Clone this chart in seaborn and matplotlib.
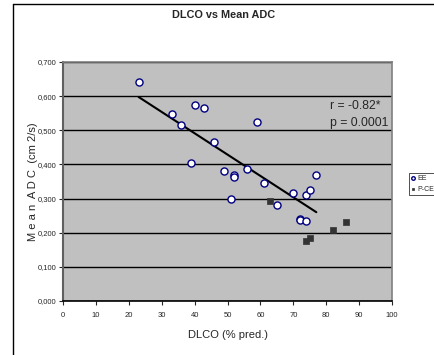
import numpy as np
import pandas as pd
import matplotlib
matplotlib.use("Agg")
import matplotlib.pyplot as plt
from matplotlib.ticker import FuncFormatter, MultipleLocator
from matplotlib.lines import Line2D
import seaborn as sns

# EE patients (open circles)
ee_dlco = [23, 33, 36, 39, 40, 43, 46, 49, 51, 52, 52, 56, 59, 61, 65, 70, 72, 72, 74, 74, 75, 77]
ee_adc = [0.640, 0.549, 0.516, 0.404, 0.574, 0.564, 0.466, 0.380, 0.300, 0.368, 0.362, 0.388,
          0.523, 0.346, 0.282, 0.316, 0.240, 0.236, 0.233, 0.311, 0.324, 0.368]

# P-CE patients (filled squares)
pce_dlco = [63, 74, 75, 82, 86]
pce_adc = [0.293, 0.176, 0.184, 0.209, 0.231]

stats_text = ["r = -0.82*", "p = 0.0001"]

ee = pd.DataFrame({"dlco": ee_dlco, "adc": ee_adc, "group": "EE"})
pce = pd.DataFrame({"dlco": pce_dlco, "adc": pce_adc, "group": "P-CE"})

sns.set_style("white")
plt.rcParams["font.family"] = ["Liberation Sans", "DejaVu Sans"]

fig = plt.figure(figsize=(4.35, 3.55), dpi=100)
W, H = 435, 355
ax = fig.add_axes([63 / W, 1 - 301 / H, (392 - 63) / W, (301 - 62) / H])
ax.set_facecolor("#C0C0C0")

# outer chart frame
fig.add_artist(Line2D([13 / W, 13 / W], [0, 1 - 4 / H], color="black", lw=1.0))
fig.add_artist(Line2D([13 / W, 1], [1 - 4 / H, 1 - 4 / H], color="black", lw=1.0))

ax.set_xlim(0, 100)
ax.set_ylim(0, 0.7)
ax.yaxis.set_major_locator(MultipleLocator(0.1))
ax.xaxis.set_major_locator(MultipleLocator(10))
ax.yaxis.set_major_formatter(FuncFormatter(lambda v, p: f"{v:.3f}".replace(".", ",")))
ax.grid(axis="y", color="black", lw=1.0)
ax.set_axisbelow(True)

sns.regplot(data=ee, x="dlco", y="adc", ax=ax, scatter=False, ci=None, truncate=True,
            line_kws={"color": "black", "lw": 1.5})
sns.scatterplot(data=ee, x="dlco", y="adc", ax=ax, marker="o", s=26,
                facecolor="white", edgecolor="#000080", linewidth=1.0, label="EE", zorder=3)
sns.scatterplot(data=pce, x="dlco", y="adc", ax=ax, marker="s", s=14,
                color="#333333", edgecolor="#333333", linewidth=0.5, label="P-CE", zorder=3)

ax.text(81.3, 0.572, stats_text[0], fontsize=8.8, va="center", ha="left")
ax.text(81.3, 0.520, stats_text[1], fontsize=8.8, va="center", ha="left")

for side in ["top", "right"]:
    ax.spines[side].set_color("#808080")
    ax.spines[side].set_linewidth(1.2)
ax.spines["left"].set_color("#606060")
ax.spines["left"].set_linewidth(1.5)
ax.spines["bottom"].set_color("black")
ax.spines["bottom"].set_linewidth(1.2)

ax.tick_params(axis="both", labelsize=5.5, length=3, width=0.8, direction="out",
               bottom=True, left=True, pad=2)
ax.tick_params(axis="x", pad=5)

ax.set_xlabel("DLCO (% pred.)", fontsize=8)
ax.xaxis.set_label_coords(0.5, -0.12)
ax.set_ylabel("M e a n  A D C  (cm 2/s)", fontsize=8)
ax.yaxis.set_label_coords(-0.075, 0.5)

fig.text(224 / W, 1 - 15 / H, "DLCO vs Mean ADC", fontsize=7.8, fontweight="bold",
         ha="center", va="center")

leg = ax.legend(loc="center left", bbox_to_anchor=(1.04, 0.49), fontsize=5,
                frameon=True, fancybox=False, edgecolor="black", handletextpad=0.1,
                borderpad=0.3, labelspacing=0.6, handlelength=0.8, markerscale=0.5)
leg.get_frame().set_linewidth(0.6)

fig.savefig("out.png", dpi=100)
